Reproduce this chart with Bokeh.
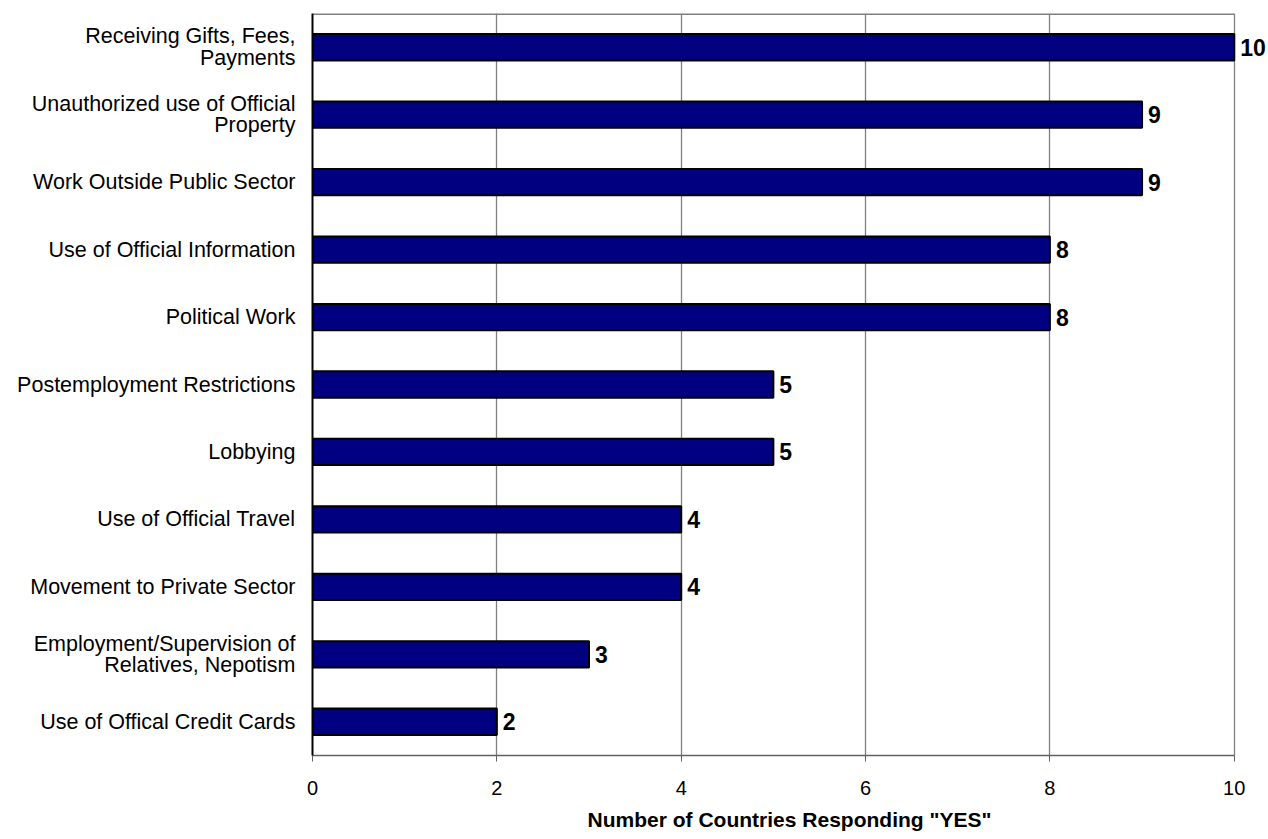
from bokeh.plotting import figure
from bokeh.models import ColumnDataSource, FactorRange, Range1d, Label, FixedTicker, Title
from bokeh.embed import file_html
from bokeh.resources import INLINE

categories = [
    "Receiving Gifts, Fees,\nPayments",
    "Unauthorized use of Official\nProperty",
    "Work Outside Public Sector",
    "Use of Official Information",
    "Political Work",
    "Postemployment Restrictions",
    "Lobbying",
    "Use of Official Travel",
    "Movement to Private Sector",
    "Employment/Supervision of\nRelatives, Nepotism",
    "Use of Offical Credit Cards",
]
values = [10, 9, 9, 8, 8, 5, 5, 4, 4, 3, 2]
x_ticks = [0, 2, 4, 6, 8, 10]
x_max = 10

src = ColumnDataSource(dict(cat=categories, val=values))
factors = list(reversed(categories))

# x range extended slightly past x_max so the "10" value label is not clipped;
# the visible border at x_max is drawn by the grid line and a top segment.
p = figure(width=1268, height=839, output_backend="svg", toolbar_location=None,
           y_range=FactorRange(*factors),
           x_range=Range1d(0, x_max * 1.035),
           min_border_left=312, min_border_right=2, min_border_top=13, min_border_bottom=81)

p.outline_line_color = None
p.ygrid.grid_line_color = None
p.xgrid.grid_line_color = "#808080"
p.xgrid.grid_line_width = 1.3
p.xgrid.ticker = FixedTicker(ticks=x_ticks)

# top border of the plot area
p.segment(x0=[0], y0=[len(factors)], x1=[x_max], y1=[len(factors)],
          line_color="#808080", line_width=3)

p.hbar(y="cat", right="val", left=0, height=0.39, source=src,
       fill_color="#000080", line_color="black", line_width=2)

for c, v in zip(categories, values):
    ysyn = factors.index(c) + 0.5  # synthetic coordinate of the factor's centre
    p.add_layout(Label(x=v, y=ysyn, text=str(v), x_offset=6,
                       text_baseline="middle", text_font="Liberation Sans",
                       text_font_style="bold", text_font_size="23px", text_color="black"))

p.xaxis.ticker = FixedTicker(ticks=x_ticks)
p.xaxis.bounds = (0, x_max)
p.xaxis.minor_tick_line_color = None
p.xaxis.major_tick_out = 6
p.xaxis.major_tick_in = 0
p.xaxis.axis_line_color = "#606060"
p.xaxis.axis_line_width = 1.5
p.xaxis.major_tick_line_color = "#606060"
p.xaxis.major_label_text_font = "Liberation Sans"
p.xaxis.major_label_text_font_size = "20px"
p.xaxis.major_label_text_color = "black"
p.xaxis.major_label_standoff = 19

title = Title(text='Number of Countries Responding "YES"', align="center", offset=-16,
              text_font="Liberation Sans", text_font_style="bold", text_font_size="21px",
              text_color="black", standoff=17)
p.add_layout(title, "below")

p.yaxis.axis_line_color = "black"
p.yaxis.axis_line_width = 2
p.yaxis.major_tick_line_color = None
p.yaxis.minor_tick_line_color = None
p.yaxis.major_label_text_font = "Liberation Sans"
p.yaxis.major_label_text_font_size = "21.5px"
p.yaxis.major_label_text_color = "black"
p.yaxis.major_label_standoff = 11
p.yaxis.major_label_text_line_height = 0.9

open("out.html", "w").write(file_html(p, INLINE))
